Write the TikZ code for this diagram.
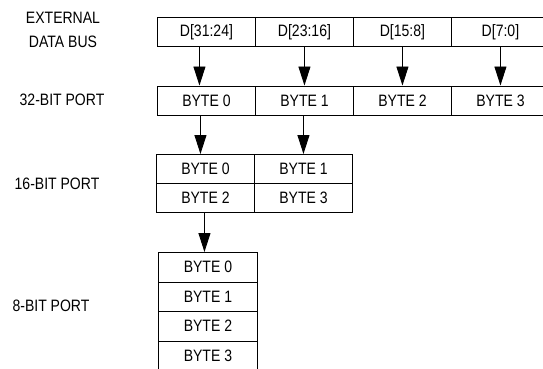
\documentclass[tikz,border=0pt]{standalone}
\usepackage{fontspec}
\setmainfont{Liberation Sans}[FakeStretch=0.85]
\usetikzlibrary{arrows.meta}
\begin{document}
\begin{tikzpicture}[x=1pt,y=-1pt,
  cell/.style={draw,line width=0.9pt,minimum width=98pt,minimum height=29pt,inner sep=0pt,anchor=north west,font=\fontsize{16.5}{16.5}\selectfont},
  cellb/.style={cell,minimum width=99pt},
  lbl/.style={font=\fontsize{16.5}{24}\selectfont,align=center},
  arr/.style={line width=0.9pt,-{Triangle[length=19pt,width=12pt]}}]
\useasboundingbox (0,0) rectangle (543,369);
\begin{scope}
\clip (0,0) rectangle (543,369);
% external data bus
\node[cell] (d1) at (157,17) {D[31:24]};
\node[cell] (d2) at (255,17) {D[23:16]};
\node[cell] (d3) at (353,17) {D[15:8]};
\node[cell] (d4) at (451,17) {D[7:0]};
% 32-bit port
\node[cell] (p1) at (157,85.5) {BYTE 0};
\node[cell] (p2) at (255,85.5) {BYTE 1};
\node[cell] (p3) at (353,85.5) {BYTE 2};
\node[cell] (p4) at (451,85.5) {BYTE 3};
% 16-bit port
\node[cell,minimum height=29pt] (h1) at (156,154) {BYTE 0};
\node[cell,minimum height=29pt] (h2) at (254,154) {BYTE 1};
\node[cell,minimum height=29pt] (h3) at (156,183) {BYTE 2};
\node[cell,minimum height=29pt] (h4) at (254,183) {BYTE 3};
% 8-bit port
\node[cellb,minimum height=29.5pt] (e1) at (158,252) {BYTE 0};
\node[cellb,minimum height=29.5pt] (e2) at (158,281.5) {BYTE 1};
\node[cellb,minimum height=29.5pt] (e3) at (158,311) {BYTE 2};
\node[cellb,minimum height=29.5pt] (e4) at (158,340.5) {BYTE 3};
\end{scope}
% labels
\node[lbl] (lb1) at (63,30) {EXTERNAL\\DATA BUS};
\node[lbl] (lb2) at (62,100) {32-BIT PORT};
\node[lbl] (lb3) at (57,184) {16-BIT PORT};
\node[lbl] (lb4) at (51,306) {8-BIT PORT};
% arrows
\draw[arr] ([xshift=-7pt]d1.south) -- ([xshift=-7pt]p1.north);
\draw[arr] (d2.south) -- (p2.north);
\draw[arr] (d3.south) -- (p3.north);
\draw[arr] (d4.south) -- (p4.north);
\draw[arr] ([xshift=-6pt]p1.south) -- ([xshift=-6pt]p1.south |- h1.north);
\draw[arr] ([xshift=-1pt]p2.south) -- ([xshift=-1pt]p2.south |- h2.north);
\draw[arr] ([xshift=-1pt]h3.south) -- ([xshift=-1pt]h3.south |- e1.north);
\end{tikzpicture}
\end{document}
